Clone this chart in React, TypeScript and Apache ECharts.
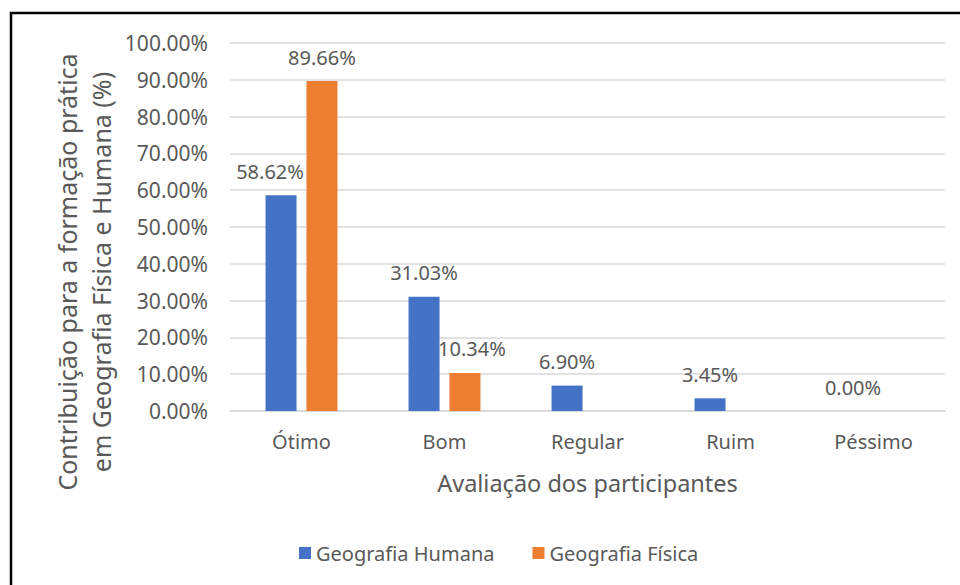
import React, { useEffect, useRef } from "react";
import * as echarts from "echarts";

const categories = ["Ótimo", "Bom", "Regular", "Ruim", "Péssimo"];
const humana = [58.62, 31.03, 6.9, 3.45, 0.0];
const fisica = [89.66, 10.34, 0.0, 0.0, 0.0];
const seriesNames = ["Geografia Humana", "Geografia Física"];
const xTitle = "Avaliação dos participantes";
const yTitleLines = ["Contribuição para a formação prática", "em Geografia Física e Humana (%)"];

const FONT = "'Noto Sans', 'Open Sans', sans-serif";
const GRAY = "#595959";

export default function App() {
  const ref = useRef<HTMLDivElement>(null);
  useEffect(() => {
    if (!ref.current) return;
    const chart = echarts.init(ref.current, undefined, { renderer: "svg" });
    const humanaOffsets: Record<number, number[]> = { 0: [-11, 0] };
    const fisicaOffsets: Record<number, number[]> = { 1: [7, 0] };
    chart.setOption({
      animation: false,
      backgroundColor: "#ffffff",
      textStyle: { fontFamily: FONT },
      grid: { left: 230, right: 15, top: 43, bottom: 174, containLabel: false },
      legend: {
        left: 294,
        top: 538,
        itemWidth: 12,
        itemHeight: 12,
        itemGap: 38,
        icon: "rect",
        textStyle: { color: GRAY, fontSize: 20, fontFamily: FONT },
        data: seriesNames,
      },
      xAxis: {
        type: "category",
        data: categories,
        axisLine: { show: true, lineStyle: { color: "#d9d9d9", width: 1.5 } },
        axisTick: { show: false },
        axisLabel: { color: GRAY, fontSize: 20, margin: 20, fontFamily: FONT },
        name: xTitle,
        nameLocation: "middle",
        nameGap: 60,
        nameTextStyle: { color: GRAY, fontSize: 23.5, fontFamily: FONT },
      },
      yAxis: {
        type: "value",
        min: 0,
        max: 100,
        interval: 10,
        axisLine: { show: false },
        axisTick: { show: false },
        splitLine: { lineStyle: { color: "#d9d9d9", width: 1.5 } },
        axisLabel: {
          color: GRAY,
          fontSize: 21,
          margin: 22,
          fontFamily: FONT,
          formatter: (v: number) => v.toFixed(2) + "%",
        },
      },
      series: [
        {
          name: seriesNames[0],
          type: "bar",
          barWidth: 31,
          barGap: "32%",
          itemStyle: { color: "#4472C4" },
          data: humana.map((v, i) => ({
            value: v,
            label: humanaOffsets[i] ? { offset: humanaOffsets[i] } : undefined,
          })),
          label: {
            show: true,
            position: "top",
            distance: 14,
            color: GRAY,
            fontSize: 20,
            fontFamily: FONT,
            formatter: (p: any) => Number(p.value).toFixed(2) + "%",
          },
        },
        {
          name: seriesNames[1],
          type: "bar",
          barWidth: 31,
          itemStyle: { color: "#ED7D31" },
          data: fisica.map((v, i) => ({
            value: v,
            label: fisicaOffsets[i] ? { offset: fisicaOffsets[i] } : undefined,
          })),
          label: {
            show: true,
            position: "top",
            distance: 14,
            color: GRAY,
            fontSize: 20,
            fontFamily: FONT,
            formatter: (p: any) => (Number(p.value) > 0 ? Number(p.value).toFixed(2) + "%" : ""),
          },
        },
      ],
      graphic: [
        {
          type: "rect",
          shape: { x: 11, y: 13, width: 980, height: 600 },
          style: { fill: "none", stroke: "#000000", lineWidth: 2.5 },
          silent: true,
          z: 10,
        },
        {
          type: "text",
          x: 84,
          y: 272,
          rotation: Math.PI / 2,
          style: {
            text: yTitleLines.join("\n"),
            fill: GRAY,
            font: `25px ${FONT}`,
            lineHeight: 34,
            align: "center",
            verticalAlign: "middle",
          },
        },
      ],
    });
    return () => chart.dispose();
  }, []);
  return (
    <div
      ref={ref}
      style={{ position: "fixed", left: 0, top: 0, width: 960, height: 585 }}
    />
  );
}
